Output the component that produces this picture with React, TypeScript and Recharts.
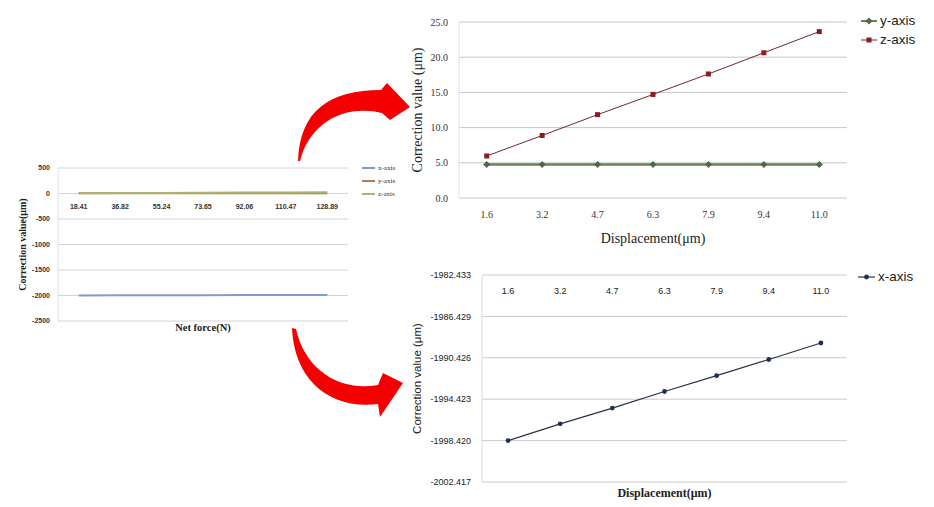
import React from "react";
import { CartesianGrid, Line, LineChart, XAxis, YAxis } from "recharts";

// categories
const displacement = ["1.6", "3.2", "4.7", "6.3", "7.9", "9.4", "11.0"];
const netForce = ["18.41", "36.82", "55.24", "73.65", "92.06", "110.47", "128.89"];

// series (correction values, μm)
const xAxisValues = [-1998.42, -1996.8, -1995.28, -1993.68, -1992.15, -1990.59, -1989.0];
const yAxisValues = [4.75, 4.75, 4.75, 4.75, 4.75, 4.75, 4.75];
const zAxisValues = [5.97, 8.88, 11.84, 14.71, 17.62, 20.63, 23.64];

// tick labels
const overviewTicks = [-2500, -2000, -1500, -1000, -500, 0, 500];
const yzTicks = [0, 5, 10, 15, 20, 25];
const xTicks = [-2002.417, -1998.42, -1994.423, -1990.426, -1986.429, -1982.433];

const overviewData = netForce.map((label, i) => ({
  label,
  x: xAxisValues[i],
  y: yAxisValues[i],
  z: zAxisValues[i],
}));

const detailData = displacement.map((label, i) => ({
  label,
  x: xAxisValues[i],
  y: yAxisValues[i],
  z: zAxisValues[i],
}));

const SANS = "'Liberation Sans', Arial, sans-serif";
const SERIF = "'Liberation Serif', 'Times New Roman', serif";

// x tick drawn higher up, where the excel axis crosses the plot
function ShiftedTick(props: any) {
  const { x, y, payload, shift, style } = props;
  return (
    <text x={x} y={y + shift} dy="0.71em" textAnchor="middle" style={style}>
      {payload.value}
    </text>
  );
}

function SquareDot(props: any) {
  const { cx, cy } = props;
  if (cx == null || cy == null) return null;
  return <rect key={props.key} x={cx - 2.5} y={cy - 2.5} width={5} height={5} fill="#8e1b22" />;
}

function DiamondDot(props: any) {
  const { cx, cy } = props;
  if (cx == null || cy == null) return null;
  const r = 3.5;
  return (
    <path
      key={props.key}
      d={`M${cx},${cy - r} L${cx + r},${cy} L${cx},${cy + r} L${cx - r},${cy} Z`}
      fill="#4d6a47"
    />
  );
}

function CircleDot(props: any) {
  const { cx, cy } = props;
  if (cx == null || cy == null) return null;
  return <circle key={props.key} cx={cx} cy={cy} r={2.4} fill="#1f3057" />;
}

type LegendEntry = {
  label: string;
  color: string;
  width: number;
  marker?: "square" | "diamond" | "circle";
  markerColor?: string;
};

function LegendBox({
  left,
  top,
  gap,
  entries,
  lineLen,
  fontSize,
  fontFamily,
  color,
}: {
  left: number;
  top: number;
  gap: number;
  entries: LegendEntry[];
  lineLen: number;
  fontSize: number;
  fontFamily: string;
  color: string;
}) {
  return (
    <div style={{ position: "absolute", left, top }}>
      {entries.map((e, i) => (
        <div
          key={e.label}
          style={{
            position: "absolute",
            left: 0,
            top: i * gap - 8,
            height: 16,
            display: "flex",
            alignItems: "center",
            whiteSpace: "nowrap",
          }}
        >
          <svg width={lineLen} height={16} style={{ display: "block" }}>
            <line x1={0} x2={lineLen} y1={8} y2={8} stroke={e.color} strokeWidth={e.width} />
            {e.marker === "square" && (
              <rect x={lineLen / 2 - 2.5} y={5.5} width={5} height={5} fill={e.markerColor} />
            )}
            {e.marker === "diamond" && (
              <path
                d={`M${lineLen / 2},4.5 L${lineLen / 2 + 3.5},8 L${lineLen / 2},11.5 L${lineLen / 2 - 3.5},8 Z`}
                fill={e.markerColor}
              />
            )}
            {e.marker === "circle" && <circle cx={lineLen / 2} cy={8} r={2.4} fill={e.markerColor} />}
          </svg>
          <span style={{ fontSize, fontFamily, color, marginLeft: 3, lineHeight: "16px" }}>{e.label}</span>
        </div>
      ))}
    </div>
  );
}

function OverviewChart() {
  const plotH = 153;
  const plotW = 290;
  const zeroFromBottom = (plotH * (0 - -2500)) / (500 - -2500);
  const tickStyle = { fontSize: 7, fontFamily: SANS, fontWeight: 700, fill: "#333" };
  return (
    <LineChart
      width={420}
      height={190}
      data={overviewData}
      margin={{ top: 18, right: 72, bottom: 0, left: 22 }}
    >
      <CartesianGrid vertical={false} stroke="#d4d4d4" />
      <XAxis
        dataKey="label"
        height={19}
        axisLine={false}
        tickLine={false}
        tickSize={0}
        tickMargin={0}
        interval={0}
        padding={{ left: plotW / 14, right: plotW / 14 }}
        tick={(p: any) => <ShiftedTick {...p} shift={-(zeroFromBottom - 10.5)} style={tickStyle} />}
        label={{
          value: "Net force(N)",
          position: "insideBottom",
          offset: 9,
          style: { fontFamily: SERIF, fontWeight: 700, fontSize: 10.5, fill: "#222" },
        }}
      />
      <YAxis
        width={36}
        domain={[-2500, 500]}
        ticks={overviewTicks}
        interval={0}
        axisLine={{ stroke: "#e0e0e0" }}
        tickLine={false}
        tickSize={0}
        tickMargin={8}
        tick={tickStyle}
        label={{
          value: "Correction value(μm)",
          angle: -90,
          position: "insideLeft",
          offset: 0,
          style: { textAnchor: "middle", fontFamily: SERIF, fontWeight: 700, fontSize: 10, fill: "#222" },
        }}
      />
      <Line dataKey="x" stroke="#7f9cd0" strokeWidth={2} dot={false} isAnimationActive={false} />
      <Line dataKey="y" stroke="#b57a5e" strokeWidth={2} dot={false} isAnimationActive={false} />
      <Line dataKey="z" stroke="#aab66c" strokeWidth={2} dot={false} isAnimationActive={false} />
    </LineChart>
  );
}

function YZChart() {
  const plotW = 388;
  const tickStyle = { fontSize: 10, fontFamily: SERIF, fill: "#333" };
  return (
    <LineChart
      width={534}
      height={250}
      data={detailData}
      margin={{ top: 22, right: 87, bottom: 0, left: 15 }}
    >
      <CartesianGrid vertical={false} stroke="#c6c6c6" />
      <XAxis
        dataKey="label"
        height={52}
        axisLine={false}
        tickLine={false}
        tickSize={0}
        tickMargin={13}
        interval={0}
        padding={{ left: plotW / 14, right: plotW / 14 }}
        tick={tickStyle}
        label={{
          value: "Displacement(μm)",
          position: "insideBottom",
          offset: 7,
          style: { fontFamily: SERIF, fontSize: 14, fill: "#222" },
        }}
      />
      <YAxis
        width={44}
        domain={[0, 25]}
        ticks={yzTicks}
        interval={0}
        axisLine={{ stroke: "#e2e2e2" }}
        tickLine={false}
        tickSize={0}
        tickMargin={11}
        tick={tickStyle}
        tickFormatter={(v: number) => v.toFixed(1)}
        label={{
          value: "Correction value (μm)",
          angle: -90,
          position: "insideLeft",
          offset: 2,
          style: { textAnchor: "middle", fontFamily: SERIF, fontSize: 14, fill: "#222" },
        }}
      />
      <Line dataKey="y" stroke="#6a7f58" strokeWidth={2.6} dot={DiamondDot} isAnimationActive={false} />
      <Line dataKey="z" stroke="#6e2a2e" strokeWidth={1} dot={SquareDot} isAnimationActive={false} />
    </LineChart>
  );
}

function XChart() {
  const plotW = 365;
  const plotH = 207;
  const tickStyle = { fontSize: 9, fontFamily: SANS, fill: "#222" };
  return (
    <LineChart
      width={534}
      height={257}
      data={detailData}
      margin={{ top: 25, right: 87, bottom: 0, left: 16 }}
    >
      <CartesianGrid vertical={false} stroke="#cacaca" />
      <XAxis
        dataKey="label"
        height={25}
        axisLine={false}
        tickLine={false}
        tickSize={0}
        tickMargin={0}
        interval={0}
        padding={{ left: plotW / 14, right: plotW / 14 }}
        tick={(p: any) => <ShiftedTick {...p} shift={-(plotH - 13)} style={tickStyle} />}
        label={{
          value: "Displacement(μm)",
          position: "insideBottom",
          offset: 10,
          style: { fontFamily: SERIF, fontWeight: 700, fontSize: 12, fill: "#222" },
        }}
      />
      <YAxis
        width={66}
        domain={[-2002.417, -1982.433]}
        ticks={xTicks}
        interval={0}
        axisLine={{ stroke: "#dcdcdc" }}
        tickLine={false}
        tickSize={0}
        tickMargin={11}
        tick={tickStyle}
        tickFormatter={(v: number) => v.toFixed(3)}
        label={{
          value: "Correction value (μm)",
          angle: -90,
          position: "insideLeft",
          offset: 1,
          style: { textAnchor: "middle", fontFamily: SANS, fontSize: 11.5, fill: "#222" },
        }}
      />
      <Line dataKey="x" stroke="#27324a" strokeWidth={1.2} dot={CircleDot} isAnimationActive={false} />
    </LineChart>
  );
}

export default function App() {
  return (
    <div
      style={{
        position: "absolute",
        left: 0,
        top: 0,
        width: 934,
        height: 507,
        background: "#fff",
        overflow: "hidden",
      }}
    >
      <div style={{ position: "absolute", left: 0, top: 150 }}>
        <OverviewChart />
      </div>
      <LegendBox
        left={362}
        top={168}
        gap={13}
        lineLen={13}
        fontSize={7}
        fontFamily={SERIF}
        color="#333"
        entries={[
          { label: "x-axis", color: "#7f9cd0", width: 2 },
          { label: "y-axis", color: "#b57a5e", width: 2 },
          { label: "z-axis", color: "#aab66c", width: 2 },
        ]}
      />

      <div style={{ position: "absolute", left: 400, top: 0 }}>
        <YZChart />
      </div>
      <LegendBox
        left={861}
        top={21}
        gap={19}
        lineLen={16}
        fontSize={13.5}
        fontFamily={SANS}
        color="#222"
        entries={[
          { label: "y-axis", color: "#6a7f58", width: 2, marker: "diamond", markerColor: "#4d6a47" },
          { label: "z-axis", color: "#6e2a2e", width: 1, marker: "square", markerColor: "#8e1b22" },
        ]}
      />

      <div style={{ position: "absolute", left: 400, top: 250 }}>
        <XChart />
      </div>
      <LegendBox
        left={858}
        top={277}
        gap={19}
        lineLen={17}
        fontSize={13.5}
        fontFamily={SANS}
        color="#222"
        entries={[{ label: "x-axis", color: "#27324a", width: 1.2, marker: "circle", markerColor: "#1f3057" }]}
      />

      {/* curved red arrows linking the overview to the two detail charts */}
      <svg
        width={934}
        height={507}
        style={{ position: "absolute", left: 0, top: 0, pointerEvents: "none" }}
      >
        <path
          d="M298,161 C300,110 330,90 381,90 L387,83 L410,107 L390,120 L382,113 C345,104 310,122 300,161 Z"
          fill="#f40000"
        />
        <path
          d="M292,328 C294,380 330,410 378,404 L380,417 L403,383 L383,373 L378,385 C340,392 305,370 296,329 Z"
          fill="#f40000"
        />
      </svg>
    </div>
  );
}
